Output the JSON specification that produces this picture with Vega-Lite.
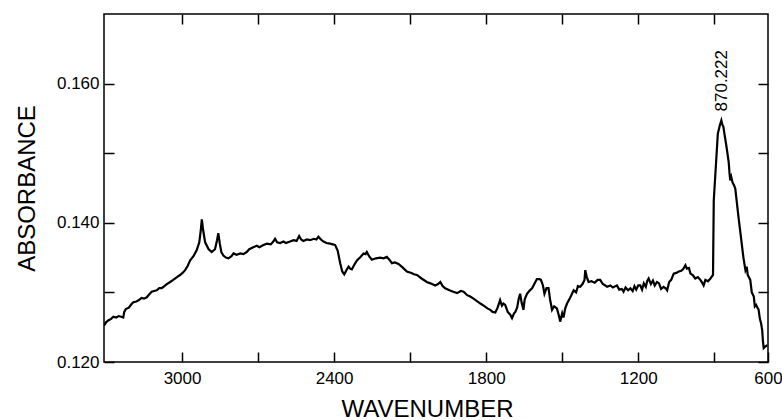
{
  "$schema": "https://vega.github.io/schema/vega-lite/v6.json",
  "autosize": "none",
  "width": 664,
  "height": 348,
  "padding": {"left": 104, "top": 14, "right": 14, "bottom": 58},
  "config": {
    "view": {"stroke": "black", "strokeWidth": 1.5},
    "font": "Liberation Sans",
    "axis": {"domain": false, "grid": false, "tickColor": "black", "tickWidth": 1.5, "labelColor": "black", "titleColor": "black", "labelFont": "Liberation Sans", "titleFont": "Liberation Sans", "titleFontWeight": "normal"}
  },
  "datasets": {
    "spectrum": [
      {"w": 3308, "A": 0.1252}, {"w": 3300, "A": 0.1257}, {"w": 3290, "A": 0.126}, {"w": 3280, "A": 0.1262},
      {"w": 3271, "A": 0.1265}, {"w": 3260, "A": 0.1264}, {"w": 3250, "A": 0.1266}, {"w": 3240, "A": 0.1265},
      {"w": 3232, "A": 0.1264}, {"w": 3228, "A": 0.1272}, {"w": 3222, "A": 0.1276}, {"w": 3210, "A": 0.1278},
      {"w": 3200, "A": 0.1283}, {"w": 3192, "A": 0.1286}, {"w": 3180, "A": 0.1287}, {"w": 3170, "A": 0.1289},
      {"w": 3160, "A": 0.1292}, {"w": 3150, "A": 0.1291}, {"w": 3139, "A": 0.1293}, {"w": 3130, "A": 0.1297},
      {"w": 3120, "A": 0.1301}, {"w": 3110, "A": 0.1302}, {"w": 3100, "A": 0.1303}, {"w": 3090, "A": 0.1306},
      {"w": 3080, "A": 0.1306}, {"w": 3070, "A": 0.1309}, {"w": 3060, "A": 0.1312}, {"w": 3047, "A": 0.1315},
      {"w": 3035, "A": 0.1318}, {"w": 3020, "A": 0.1322}, {"w": 3008, "A": 0.1325}, {"w": 2998, "A": 0.1328},
      {"w": 2988, "A": 0.1332}, {"w": 2978, "A": 0.1338}, {"w": 2968, "A": 0.1346}, {"w": 2955, "A": 0.1352},
      {"w": 2942, "A": 0.1361}, {"w": 2932, "A": 0.1372}, {"w": 2926, "A": 0.139}, {"w": 2922, "A": 0.1405},
      {"w": 2917, "A": 0.139}, {"w": 2909, "A": 0.1372}, {"w": 2895, "A": 0.1362}, {"w": 2883, "A": 0.1358},
      {"w": 2870, "A": 0.1362}, {"w": 2862, "A": 0.1375}, {"w": 2857, "A": 0.1385}, {"w": 2851, "A": 0.137},
      {"w": 2845, "A": 0.1358}, {"w": 2837, "A": 0.1353}, {"w": 2827, "A": 0.135}, {"w": 2817, "A": 0.1349},
      {"w": 2805, "A": 0.1352}, {"w": 2797, "A": 0.1356}, {"w": 2785, "A": 0.1354}, {"w": 2770, "A": 0.1356},
      {"w": 2758, "A": 0.1355}, {"w": 2745, "A": 0.1358}, {"w": 2735, "A": 0.1362}, {"w": 2719, "A": 0.1365},
      {"w": 2705, "A": 0.1367}, {"w": 2695, "A": 0.1365}, {"w": 2679, "A": 0.1368}, {"w": 2665, "A": 0.137},
      {"w": 2650, "A": 0.1369}, {"w": 2640, "A": 0.1373}, {"w": 2633, "A": 0.1377}, {"w": 2625, "A": 0.1372},
      {"w": 2613, "A": 0.1371}, {"w": 2600, "A": 0.1373}, {"w": 2590, "A": 0.1371}, {"w": 2574, "A": 0.1373},
      {"w": 2560, "A": 0.1375}, {"w": 2548, "A": 0.1374}, {"w": 2538, "A": 0.1381}, {"w": 2530, "A": 0.1376},
      {"w": 2521, "A": 0.1374}, {"w": 2508, "A": 0.1376}, {"w": 2495, "A": 0.1375}, {"w": 2480, "A": 0.1377},
      {"w": 2470, "A": 0.1376}, {"w": 2462, "A": 0.138}, {"w": 2452, "A": 0.1376}, {"w": 2442, "A": 0.1373},
      {"w": 2430, "A": 0.1371}, {"w": 2416, "A": 0.137}, {"w": 2405, "A": 0.1369}, {"w": 2396, "A": 0.1368},
      {"w": 2386, "A": 0.136}, {"w": 2376, "A": 0.1342}, {"w": 2368, "A": 0.133}, {"w": 2360, "A": 0.1326},
      {"w": 2350, "A": 0.1333}, {"w": 2343, "A": 0.1337}, {"w": 2336, "A": 0.1334}, {"w": 2330, "A": 0.1333},
      {"w": 2320, "A": 0.134}, {"w": 2310, "A": 0.1346}, {"w": 2298, "A": 0.135}, {"w": 2284, "A": 0.1356},
      {"w": 2276, "A": 0.1355}, {"w": 2271, "A": 0.1358}, {"w": 2262, "A": 0.1352}, {"w": 2251, "A": 0.1347},
      {"w": 2235, "A": 0.1349}, {"w": 2218, "A": 0.135}, {"w": 2205, "A": 0.1349}, {"w": 2192, "A": 0.1351},
      {"w": 2182, "A": 0.1347}, {"w": 2172, "A": 0.1342}, {"w": 2160, "A": 0.1343}, {"w": 2146, "A": 0.1341},
      {"w": 2130, "A": 0.1336}, {"w": 2113, "A": 0.133}, {"w": 2095, "A": 0.1328}, {"w": 2085, "A": 0.1326},
      {"w": 2073, "A": 0.1325}, {"w": 2055, "A": 0.132}, {"w": 2034, "A": 0.1315}, {"w": 2020, "A": 0.1313},
      {"w": 2001, "A": 0.131}, {"w": 1990, "A": 0.1312}, {"w": 1981, "A": 0.1315}, {"w": 1972, "A": 0.1309},
      {"w": 1962, "A": 0.1306}, {"w": 1945, "A": 0.1303}, {"w": 1930, "A": 0.1301}, {"w": 1915, "A": 0.1299},
      {"w": 1900, "A": 0.1302}, {"w": 1889, "A": 0.1301}, {"w": 1875, "A": 0.1296}, {"w": 1863, "A": 0.1294},
      {"w": 1850, "A": 0.1291}, {"w": 1835, "A": 0.1287}, {"w": 1823, "A": 0.1284}, {"w": 1810, "A": 0.1281},
      {"w": 1795, "A": 0.1277}, {"w": 1784, "A": 0.1275}, {"w": 1775, "A": 0.1272}, {"w": 1764, "A": 0.1271},
      {"w": 1755, "A": 0.1278}, {"w": 1745, "A": 0.1289}, {"w": 1738, "A": 0.1281}, {"w": 1732, "A": 0.1284},
      {"w": 1725, "A": 0.1282}, {"w": 1715, "A": 0.1272}, {"w": 1705, "A": 0.1268}, {"w": 1698, "A": 0.1263},
      {"w": 1690, "A": 0.127}, {"w": 1685, "A": 0.1272}, {"w": 1678, "A": 0.1278}, {"w": 1672, "A": 0.129},
      {"w": 1666, "A": 0.1298}, {"w": 1660, "A": 0.1285}, {"w": 1653, "A": 0.1275}, {"w": 1648, "A": 0.129},
      {"w": 1639, "A": 0.1298}, {"w": 1630, "A": 0.1302}, {"w": 1619, "A": 0.1306}, {"w": 1610, "A": 0.1312},
      {"w": 1600, "A": 0.1319}, {"w": 1590, "A": 0.1319}, {"w": 1584, "A": 0.1318}, {"w": 1576, "A": 0.131},
      {"w": 1570, "A": 0.1298}, {"w": 1562, "A": 0.1306}, {"w": 1554, "A": 0.1306}, {"w": 1548, "A": 0.129},
      {"w": 1540, "A": 0.1275}, {"w": 1532, "A": 0.128}, {"w": 1521, "A": 0.1277}, {"w": 1514, "A": 0.1268},
      {"w": 1508, "A": 0.1258}, {"w": 1500, "A": 0.127}, {"w": 1495, "A": 0.1264}, {"w": 1488, "A": 0.1277},
      {"w": 1481, "A": 0.1284}, {"w": 1472, "A": 0.129}, {"w": 1464, "A": 0.1296}, {"w": 1455, "A": 0.1303},
      {"w": 1445, "A": 0.13}, {"w": 1438, "A": 0.1309}, {"w": 1429, "A": 0.1308}, {"w": 1420, "A": 0.1312},
      {"w": 1412, "A": 0.1318}, {"w": 1409, "A": 0.1332}, {"w": 1403, "A": 0.1322}, {"w": 1396, "A": 0.1315},
      {"w": 1385, "A": 0.1316}, {"w": 1372, "A": 0.1314}, {"w": 1360, "A": 0.1318}, {"w": 1350, "A": 0.1318},
      {"w": 1340, "A": 0.1312}, {"w": 1330, "A": 0.131}, {"w": 1323, "A": 0.1308}, {"w": 1310, "A": 0.131},
      {"w": 1300, "A": 0.1307}, {"w": 1290, "A": 0.1309}, {"w": 1284, "A": 0.131}, {"w": 1275, "A": 0.1304},
      {"w": 1265, "A": 0.1305}, {"w": 1258, "A": 0.1301}, {"w": 1250, "A": 0.1307}, {"w": 1240, "A": 0.1303},
      {"w": 1231, "A": 0.1306}, {"w": 1222, "A": 0.1302}, {"w": 1215, "A": 0.1309}, {"w": 1208, "A": 0.1304},
      {"w": 1200, "A": 0.131}, {"w": 1192, "A": 0.131}, {"w": 1185, "A": 0.1304}, {"w": 1178, "A": 0.1313},
      {"w": 1170, "A": 0.1308}, {"w": 1165, "A": 0.1316}, {"w": 1159, "A": 0.132}, {"w": 1150, "A": 0.1312},
      {"w": 1142, "A": 0.1317}, {"w": 1135, "A": 0.131}, {"w": 1126, "A": 0.1315}, {"w": 1118, "A": 0.1313},
      {"w": 1110, "A": 0.1305}, {"w": 1100, "A": 0.1308}, {"w": 1092, "A": 0.1306}, {"w": 1086, "A": 0.1303},
      {"w": 1078, "A": 0.1315}, {"w": 1070, "A": 0.1318}, {"w": 1060, "A": 0.1327}, {"w": 1050, "A": 0.1328},
      {"w": 1040, "A": 0.133}, {"w": 1030, "A": 0.1331}, {"w": 1022, "A": 0.1334}, {"w": 1014, "A": 0.1339},
      {"w": 1008, "A": 0.1334}, {"w": 1000, "A": 0.1335}, {"w": 994, "A": 0.1327}, {"w": 985, "A": 0.1325},
      {"w": 975, "A": 0.132}, {"w": 965, "A": 0.1322}, {"w": 955, "A": 0.1318}, {"w": 948, "A": 0.1314},
      {"w": 942, "A": 0.131}, {"w": 935, "A": 0.1318}, {"w": 925, "A": 0.1316}, {"w": 915, "A": 0.132},
      {"w": 905, "A": 0.1325}, {"w": 902, "A": 0.1432}, {"w": 886, "A": 0.1528}, {"w": 878, "A": 0.154},
      {"w": 872, "A": 0.1547}, {"w": 868, "A": 0.1541}, {"w": 864, "A": 0.1538}, {"w": 860, "A": 0.1528},
      {"w": 852, "A": 0.151}, {"w": 843, "A": 0.1487}, {"w": 840, "A": 0.1472}, {"w": 837, "A": 0.1461},
      {"w": 833, "A": 0.1466}, {"w": 828, "A": 0.1458}, {"w": 822, "A": 0.1454}, {"w": 817, "A": 0.1449},
      {"w": 805, "A": 0.141}, {"w": 795, "A": 0.138}, {"w": 790, "A": 0.1365}, {"w": 785, "A": 0.135},
      {"w": 777, "A": 0.1332}, {"w": 772, "A": 0.1337}, {"w": 768, "A": 0.1325}, {"w": 758, "A": 0.1318},
      {"w": 752, "A": 0.13}, {"w": 744, "A": 0.1294}, {"w": 740, "A": 0.128}, {"w": 735, "A": 0.1282},
      {"w": 725, "A": 0.1275}, {"w": 720, "A": 0.1262}, {"w": 715, "A": 0.1255}, {"w": 711, "A": 0.1246},
      {"w": 708, "A": 0.123}, {"w": 705, "A": 0.122}, {"w": 700, "A": 0.1222}, {"w": 691, "A": 0.1224}
    ],
    "peak": [{"w": 870.222, "A": 0.1547, "label": "870.222"}]
  },
  "layer": [
    {
      "data": {"name": "spectrum"},
      "mark": {"type": "line", "color": "black", "strokeWidth": 2.2, "clip": true},
      "encoding": {
        "x": {
          "field": "w", "type": "quantitative",
          "scale": {"domain": [3308, 688], "nice": false, "zero": false},
          "axis": {
            "orient": "bottom", "values": [3000, 2700, 2400, 2100, 1800, 1500, 1200, 900, 688],
            "tickSize": -10, "labelPadding": 18, "labelFontSize": 17, "labelFlush": false,
            "labelExpr": "datum.value < 700 ? '600' : (datum.value % 600 == 0 ? format(datum.value, 'd') : '')",
            "title": "WAVENUMBER", "titleFontSize": 24, "titlePadding": 11, "titleX": 323
          }
        },
        "y": {
          "field": "A", "type": "quantitative",
          "scale": {"domain": [0.12, 0.17], "nice": false, "zero": false},
          "axis": {
            "orient": "left", "values": [0.12, 0.13, 0.14, 0.15, 0.16],
            "tickSize": -10, "labelPadding": 15, "labelFontSize": 17, "labelFlush": false,
            "labelExpr": "(round(datum.value * 1000) % 20 == 0) ? format(datum.value, '.3f') : ''",
            "title": "ABSORBANCE", "titleFontSize": 24, "titlePadding": 17
          }
        }
      }
    },
    {
      "data": {"name": "peak"},
      "mark": {"type": "text", "angle": 270, "align": "left", "baseline": "middle", "dx": 9, "fontSize": 17, "color": "black", "font": "Liberation Sans"},
      "encoding": {
        "x": {
          "field": "w", "type": "quantitative",
          "axis": {"orient": "top", "values": [3000, 2700, 2400, 2100, 1800, 1500, 1200, 900], "tickSize": -10, "labels": false, "title": null}
        },
        "y": {
          "field": "A", "type": "quantitative",
          "axis": {"orient": "right", "values": [0.12, 0.13, 0.14, 0.15, 0.16], "tickSize": -10, "labels": false, "title": null}
        },
        "text": {"field": "label"}
      }
    }
  ],
  "resolve": {"axis": {"x": "independent", "y": "independent"}}
}
